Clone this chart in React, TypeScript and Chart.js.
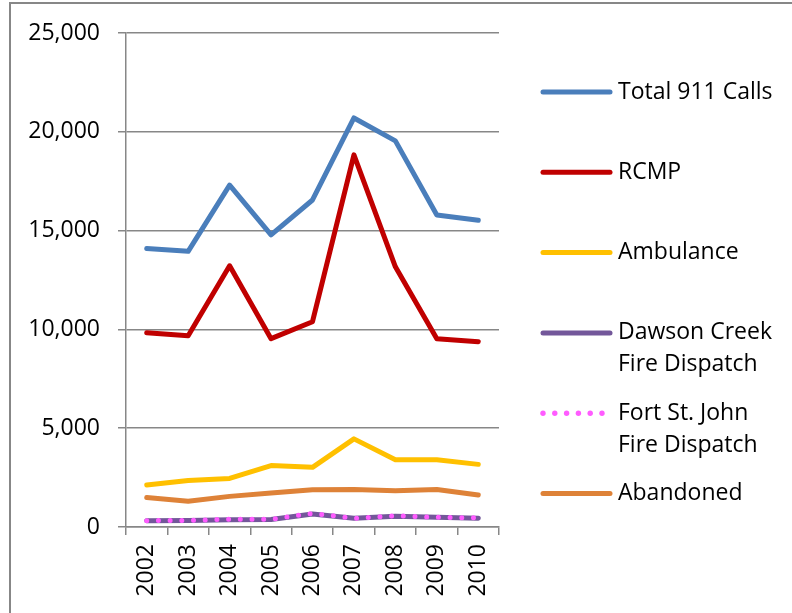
import React, { useEffect, useRef } from "react";
import { Chart, registerables } from "chart.js";

Chart.register(...registerables);

const years = ["2002", "2003", "2004", "2005", "2006", "2007", "2008", "2009", "2010"];
const total911 = [14100, 13950, 17300, 14780, 16550, 20700, 19540, 15790, 15520];
const rcmp = [9830, 9680, 13220, 9530, 10390, 18830, 13170, 9530, 9380];
const ambulance = [2130, 2350, 2460, 3110, 3020, 4460, 3400, 3400, 3170];
const dawsonCreek = [320, 330, 370, 380, 660, 440, 540, 490, 440];
const fortStJohn = [320, 330, 400, 390, 690, 440, 570, 490, 460];
const abandoned = [1490, 1300, 1550, 1720, 1880, 1900, 1840, 1900, 1620];
const seriesLabels = [
  ["Total 911 Calls"],
  ["RCMP"],
  ["Ambulance"],
  ["Dawson Creek", "Fire Dispatch"],
  ["Fort St. John", "Fire Dispatch"],
  ["Abandoned"],
];
const yTicks = [0, 5000, 10000, 15000, 20000, 25000];

const FONT = "'Open Sans', 'DejaVu Sans', sans-serif";
const GRID = "#878787";

const legendPlugin = {
  id: "customLegend",
  afterDraw(chart: any) {
    const ctx = chart.ctx;
    const ds = chart.data.datasets;
    ctx.save();
    ctx.font = `23px ${FONT}`;
    ctx.fillStyle = "#000";
    ctx.textBaseline = "middle";
    ctx.textAlign = "left";
    for (let i = 0; i < ds.length; i++) {
      const y = 92 + i * 80.3;
      const d = ds[i];
      if (d.legendDots) {
        ctx.fillStyle = d.borderColor;
        for (let k = 0; k < 6; k++) {
          ctx.beginPath();
          ctx.arc(543 + k * 11.8, y, 2.7, 0, Math.PI * 2);
          ctx.fill();
        }
      } else {
        ctx.strokeStyle = d.borderColor;
        ctx.lineWidth = 5;
        ctx.lineCap = "round";
        ctx.beginPath();
        ctx.moveTo(543, y);
        ctx.lineTo(610, y);
        ctx.stroke();
      }
      ctx.fillStyle = "#000";
      const lines: string[] = d.legendLines;
      lines.forEach((t, j) => ctx.fillText(t, 618, y + j * 32));
    }
    ctx.restore();
  },
};

export default function App() {
  const ref = useRef<HTMLCanvasElement>(null);
  useEffect(() => {
    document.body.style.margin = "0";
    const mk = (data: number[], color: string, idx: number, extra: any = {}) => ({
      label: seriesLabels[idx].join(" "),
      legendLines: seriesLabels[idx],
      data,
      borderColor: color,
      backgroundColor: color,
      borderWidth: 5,
      pointRadius: 0,
      tension: 0,
      borderJoinStyle: "round",
      borderCapStyle: "round",
      fill: false,
      order: 1,
      ...extra,
    });
    const chart = new Chart(ref.current!, {
      type: "line",
      data: {
        labels: years,
        datasets: [
          mk(total911, "#4A7EBB", 0),
          mk(rcmp, "#C00000", 1),
          mk(ambulance, "#FFC000", 2),
          mk(dawsonCreek, "#73579A", 3),
          mk(fortStJohn, "#FF5CFF", 4, { borderDash: [0, 11.7], order: 0, legendDots: true }),
          mk(abandoned, "#DE8238", 5),
        ] as any,
      },
      options: {
        responsive: false,
        animation: false,
        devicePixelRatio: 1,
        layout: { padding: { top: 33, right: 293, left: 0, bottom: 0 } },
        plugins: { legend: { display: false }, tooltip: { enabled: false } },
        scales: {
          x: {
            type: "category",
            offset: true,
            grid: { offset: true, drawOnChartArea: false, drawTicks: true, tickLength: 8, color: GRID, lineWidth: 1.5 },
            border: { display: true, color: GRID, width: 1.5 },
            ticks: { minRotation: 90, maxRotation: 90, padding: 9, color: "#000", font: { family: FONT, size: 23 } },
            afterFit: (s: any) => { s.height = 86; },
          },
          y: {
            min: 0,
            max: 25000,
            afterBuildTicks: (s: any) => { s.ticks = yTicks.map((v) => ({ value: v })); },
            grid: { color: GRID, lineWidth: 1.5, tickLength: 8, drawTicks: true },
            border: { display: true, color: GRID, width: 1.5 },
            ticks: {
              padding: 18,
              color: "#000",
              font: { family: FONT, size: 23 },
              callback: (v: any) => Number(v).toLocaleString("en-US"),
            },
            afterFit: (s: any) => { s.width = 126; },
          },
        },
      } as any,
      plugins: [legendPlugin],
    });
    return () => chart.destroy();
  }, []);
  return (
    <div style={{ position: "absolute", left: 0, top: 0, width: 792, height: 613, background: "#fff" }}>
      <canvas ref={ref} width={792} height={613} style={{ display: "block", width: 792, height: 613 }} />
      <div
        style={{
          position: "absolute",
          left: 9,
          top: 2,
          width: 800,
          height: 700,
          borderLeft: `2px solid ${GRID}`,
          borderTop: `2px solid ${GRID}`,
          pointerEvents: "none",
        }}
      />
    </div>
  );
}
